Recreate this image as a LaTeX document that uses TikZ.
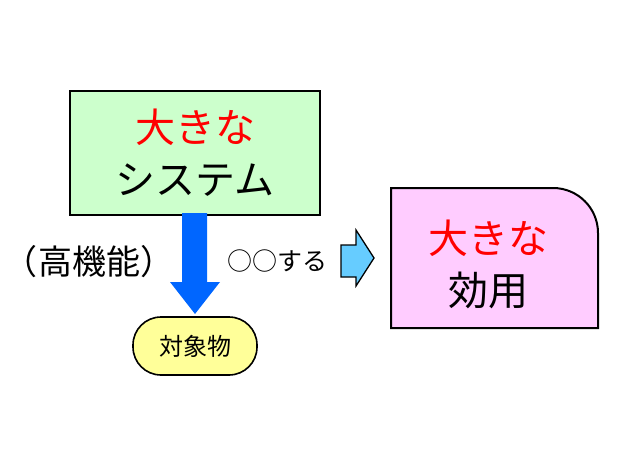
\documentclass[tikz,border=0pt]{standalone}
\usepackage{fontspec}
\newfontfamily\cjk{Noto Sans CJK JP}
\definecolor{boxgreen}{HTML}{CCFFCC}
\definecolor{boxpink}{HTML}{FFCCFF}
\definecolor{boxyellow}{HTML}{FFFF99}
\definecolor{arrowblue}{HTML}{0066FF}
\definecolor{arrowsky}{HTML}{66CCFF}
\definecolor{textred}{HTML}{FF0000}
\begin{document}
\begin{tikzpicture}
[x=1pt,y=-1pt,
bigbox/.style={rectangle,draw,line width=2pt,fill=boxgreen,minimum width=250pt,minimum height=123pt,inner sep=0pt},
bigtext/.style={font=\cjk\fontsize{40}{52}\selectfont,align=center},
midtext/.style={font=\cjk\fontsize{34}{40}\selectfont},
smalltext/.style={font=\cjk\fontsize{24}{28}\selectfont},
pill/.style={rectangle,rounded corners=28pt,draw,line width=1.6pt,fill=boxyellow,minimum width=124pt,minimum height=58pt}]
\useasboundingbox (0,0) rectangle (620,465);
% system box
\node[bigbox,bigtext] (sys) at (195,153) {\textcolor{textred}{大きな}\\システム};
% down arrow
\fill[arrowblue] (182,213) -- (207,213) -- (207,282) -- (220,282) -- (195,314)
  -- (170,282) -- (182,282) -- cycle;
\node[pill] (obj) at (195,346) {};
\node[smalltext] at (obj) {対象物};
\node[midtext] (func) at (89,262) {（高機能）};
\node[smalltext,font=\cjk\fontsize{25}{28}\selectfont] (act) at (277,261) {○○する};
% right arrow
\draw[line width=1.3pt,fill=arrowsky,line join=miter] (341,245) -- (356,245) -- (356,230)
  -- (374,258) -- (356,286) -- (356,277) -- (341,277) -- cycle;
% utility box
\draw[line width=2pt,fill=boxpink] (391,328) -- (391,188) [rounded corners=45pt] -- (598,188)
  [sharp corners] -- (598,328) -- cycle;
\node[bigtext] (util) at (488,264) {\textcolor{textred}{大きな}\\効用};
\end{tikzpicture}
\end{document}
